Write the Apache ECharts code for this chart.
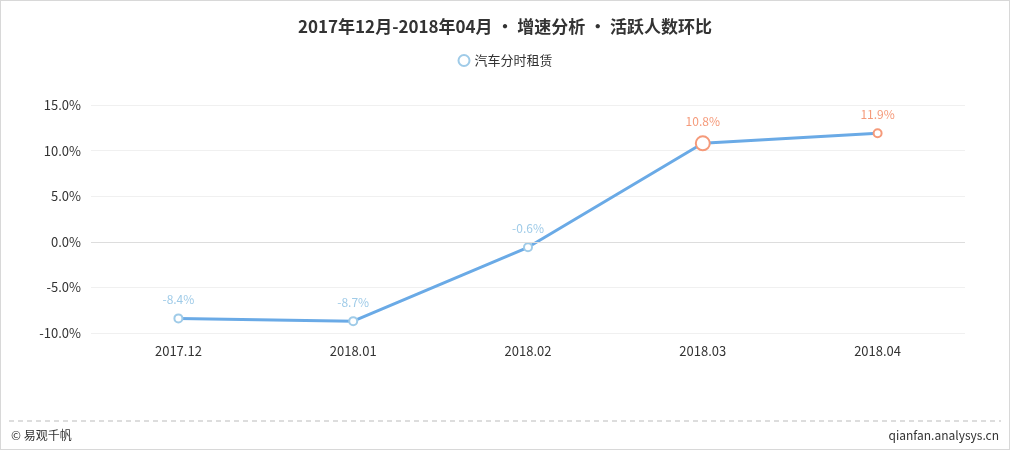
<!DOCTYPE html>
<html><head><meta charset="utf-8">
<script src="https://cdn.jsdelivr.net/npm/echarts@6/dist/echarts.min.js"></script>
<style>html,body{margin:0;padding:0;background:#fff}#c{width:1008px;height:448px;border:1px solid #d8d8d8}</style>
</head><body><div id="c"></div>
<script>
const categories=['2017.12','2018.01','2018.02','2018.03','2018.04'];
const values=[-8.4,-8.7,-0.6,10.8,11.9];
const pointColors=['#9fcbe8','#9fcbe8','#9fcbe8','#f59a7a','#f59a7a'];
const symbolSizes=[8,8,8,14,8];
const yTicks={min:-10,max:15,interval:5};
const chart=echarts.init(document.getElementById('c'));
const font='"Microsoft YaHei","Noto Sans CJK SC",sans-serif';
chart.setOption({
  textStyle:{fontFamily:font},
  title:{text:'2017年12月-2018年04月 • 增速分析 • 活跃人数环比',left:'center',top:12,textStyle:{fontSize:17,fontWeight:'bold',color:'#333',fontFamily:font}},
  legend:{top:48,left:'center',data:[{name:'汽车分时租赁',icon:'circle',itemStyle:{color:'#fff',borderColor:'#9fcbe8',borderWidth:2}}],itemWidth:11,itemHeight:11,itemGap:6,textStyle:{color:'#333',fontSize:13}},
  grid:{left:90,right:44,top:104,bottom:116},
  xAxis:{type:'category',data:categories,boundaryGap:true,axisLine:{show:false},axisTick:{show:false},axisLabel:{color:'#333',fontSize:13,margin:12}},
  yAxis:{type:'value',min:yTicks.min,max:yTicks.max,interval:yTicks.interval,axisLine:{show:false},axisTick:{show:false},
    axisLabel:{color:'#333',fontSize:13,formatter:v=>v.toFixed(1)+'%',margin:10},
    splitLine:{lineStyle:{color:'#f0f0f0'}}},
  series:[{name:'汽车分时租赁',type:'line',smooth:false,
    lineStyle:{color:'#6aaae6',width:3},itemStyle:{color:'#fff',borderColor:'#9fcbe8',borderWidth:2},
    symbol:'circle',
    data:values.map((v,i)=>({value:v,symbolSize:symbolSizes[i],itemStyle:{color:'#fff',borderColor:pointColors[i],borderWidth:2},
      label:{show:true,position:'top',distance:8,color:pointColors[i],fontSize:12,formatter:p=>p.value.toFixed(1)+'%'}})),
    markLine:{silent:true,symbol:'none',label:{show:false},lineStyle:{color:'#ddd',type:'solid',width:1},data:[{yAxis:0}]}
  }],
  graphic:[
    {type:'line',shape:{x1:8,y1:420,x2:1000,y2:420},style:{stroke:'#bbb',lineDash:[5,4],lineWidth:1}},
    {type:'text',left:10,top:428,style:{text:'© 易观千帆',fill:'#333',font:'12px '+font}},
    {type:'text',right:10,top:428,style:{text:'qianfan.analysys.cn',fill:'#333',font:'12px '+font}}
  ]
});
</script></body></html>
